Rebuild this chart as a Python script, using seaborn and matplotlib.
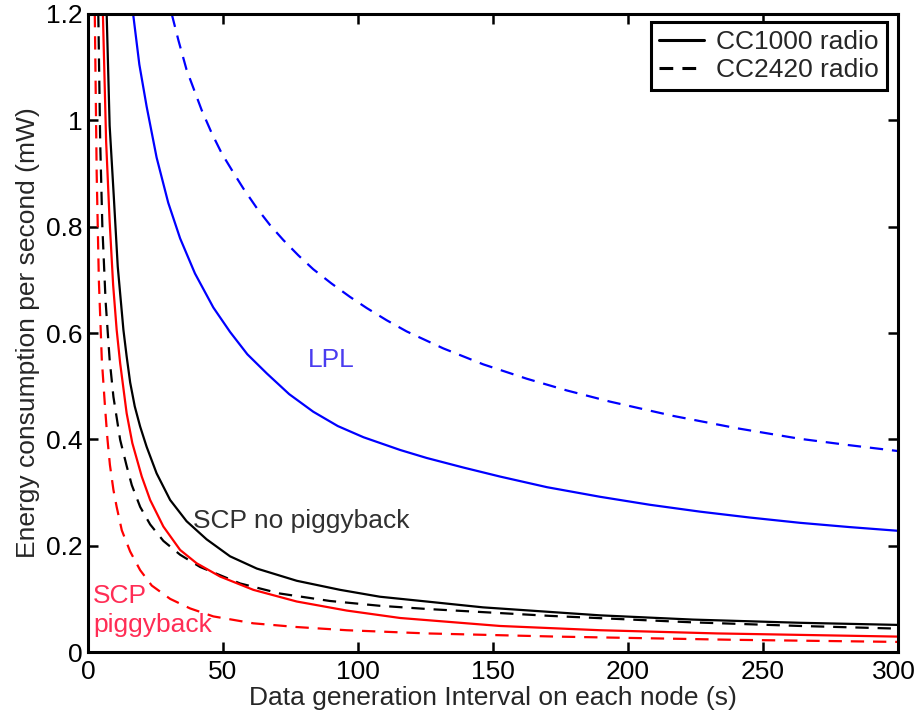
import pandas as pd
import numpy as np
import matplotlib
matplotlib.use('Agg')
import matplotlib.pyplot as plt
from matplotlib.lines import Line2D
from matplotlib.transforms import ScaledTranslation
import seaborn as sns

# --- values ---
lpl_cc1000_x = [16.7, 19.0, 21.7, 25.4, 29.7, 34.1, 39.6, 46.4, 52.6, 59, 66.2, 74.5, 83.4, 92.5,
                102, 115.6, 125.4, 139, 152.6, 170, 189.6, 208, 226.7, 245, 263.7, 282, 300]
lpl_cc1000_y = [1.20, 1.105, 1.026, 0.930, 0.845, 0.778, 0.712, 0.648, 0.602, 0.560, 0.524, 0.485,
                0.452, 0.425, 0.404, 0.380, 0.365, 0.347, 0.330, 0.310, 0.292, 0.277, 0.264,
                0.253, 0.243, 0.235, 0.228]

lpl_cc2420_x = [31, 33.5, 36.5, 42.1, 45.8, 49.5, 53.8, 57.5, 62.5, 67.4, 72.3, 77.9, 83.4, 90.2,
                97, 103.2, 110.6, 118, 131.6, 146.4, 162.5, 177.3, 193.3, 216.8, 240.2, 263.7,
                282, 300]
lpl_cc2420_y = [1.20, 1.15, 1.095, 1.019, 0.976, 0.938, 0.902, 0.872, 0.835, 0.803, 0.775, 0.746,
                0.720, 0.693, 0.668, 0.647, 0.624, 0.603, 0.571, 0.541, 0.514, 0.492, 0.471,
                0.444, 0.421, 0.401, 0.389, 0.378]

scp_cc1000_x = [6.9, 8.0, 9.5, 11.0, 13.1, 14.3, 15.6, 17.3, 19.3, 21.7, 25.4, 30.4, 36.5, 43.9,
                52.6, 62.5, 77.3, 93.3, 108.1, 125.4, 146.3, 189.6, 224, 263.7, 300]
scp_cc1000_y = [1.20, 0.99, 0.86, 0.725, 0.606, 0.556, 0.507, 0.462, 0.424, 0.386, 0.336, 0.286,
                0.246, 0.212, 0.180, 0.157, 0.134, 0.117, 0.104, 0.095, 0.084, 0.069, 0.061,
                0.055, 0.051]

scp_cc2420_x = [3.8, 4.5, 5.3, 6.5, 8.0, 9.4, 11.9, 14.3, 16.2, 19.3, 23, 27.9, 34.1, 41.5, 56.3,
                71.1, 89.6, 108, 125.4, 171, 223, 263.7, 300]
scp_cc2420_y = [1.20, 0.96, 0.80, 0.66, 0.55, 0.48, 0.399, 0.350, 0.314, 0.273, 0.240, 0.209,
                0.183, 0.160, 0.129, 0.110, 0.096, 0.087, 0.081, 0.068, 0.056, 0.049, 0.044]

pig_cc1000_x = [5.5, 6.7, 8.0, 9.3, 10.6, 11.9, 14.3, 16.4, 19.9, 23, 27.9, 34.1, 40.2, 48.9,
                61.2, 77.3, 95.8, 115.6, 152.6, 189.6, 232.8, 300]
pig_cc1000_y = [1.20, 0.96, 0.81, 0.69, 0.606, 0.543, 0.449, 0.393, 0.330, 0.286, 0.236, 0.192,
                0.167, 0.142, 0.117, 0.095, 0.078, 0.064, 0.049, 0.041, 0.035, 0.029]

pig_cc2420_x = [2.5, 3.2, 4.0, 5.1, 6.3, 7.2, 8.1, 9.4, 10.6, 12.5, 15.6, 19.3, 23.6, 30.4, 37.8,
                46.4, 61.2, 77.3, 95.8, 125.4, 173.6, 239, 300]
pig_cc2420_y = [1.20, 0.90, 0.70, 0.55, 0.46, 0.40, 0.352, 0.305, 0.273, 0.229, 0.189, 0.154,
                0.125, 0.100, 0.082, 0.067, 0.054, 0.047, 0.041, 0.035, 0.029, 0.023, 0.019]

x_ticks = [0, 50, 100, 150, 200, 250, 300]
y_ticks = [0, 0.2, 0.4, 0.6, 0.8, 1.0, 1.2]
y_tick_labels = ['0', '0.2', '0.4', '0.6', '0.8', '1', '1.2']
legend_labels = ['CC1000 radio', 'CC2420 radio']

sns.set_style('ticks')
plt.rcParams['font.family'] = ['Liberation Sans', 'DejaVu Sans']

fig = plt.figure(figsize=(9.19, 7.14), dpi=100)
ax = fig.add_axes([0.0958, 0.0868, 0.8814, 0.8936])

dash = (0, (6, 4))
curves = [
    (lpl_cc1000_x, lpl_cc1000_y, '#0000ff', '-'),
    (lpl_cc2420_x, lpl_cc2420_y, '#0000ff', dash),
    (scp_cc1000_x, scp_cc1000_y, '#000000', '-'),
    (scp_cc2420_x, scp_cc2420_y, '#000000', dash),
    (pig_cc1000_x, pig_cc1000_y, '#ff0000', '-'),
    (pig_cc2420_x, pig_cc2420_y, '#ff0000', dash),
]
for xs, ys, col, ls in curves:
    d = pd.DataFrame({'x': xs, 'y': ys})
    sns.lineplot(data=d, x='x', y='y', ax=ax, color=col, linestyle=ls,
                 linewidth=1.6, errorbar=None, sort=False)

ax.set_xlim(0, 300)
ax.set_ylim(0, 1.2)
ax.set_xticks(x_ticks)
ax.set_xticklabels([str(t) for t in x_ticks])
ax.set_yticks(y_ticks)
ax.set_yticklabels(y_tick_labels)
ax.tick_params(direction='in', top=True, right=True, length=7, width=1.8,
               labelsize=19, colors='black')
ax.tick_params(axis='x', pad=6)
ax.tick_params(axis='y', pad=4)
# nudge the last x tick label a few pixels left so it stays inside the figure
last = ax.get_xticklabels()[-1]
last.set_transform(last.get_transform() + ScaledTranslation(-3 / 72, 0, fig.dpi_scale_trans))
for s in ax.spines.values():
    s.set_visible(True)
    s.set_linewidth(2.2)
    s.set_color('black')

ax.set_xlabel('Data generation Interval on each node (s)', fontsize=19, labelpad=1)
ax.set_ylabel('Energy consumption per second (mW)', fontsize=19, labelpad=4)

# curve labels
ax.text(81.5, 0.537, 'LPL', fontsize=19, color='#4a3cf0', ha='left', va='baseline')
ax.text(39.0, 0.233, 'SCP no piggyback', fontsize=19, color='#303030', ha='left', va='baseline')
ax.text(1.8, 0.093, 'SCP', fontsize=19, color='#ff2d55', ha='left', va='baseline')
ax.text(1.8, 0.038, 'piggyback', fontsize=19, color='#ff2d55', ha='left', va='baseline')

handles = [Line2D([], [], color='black', lw=2.2, linestyle='-'),
           Line2D([], [], color='black', lw=2.2, linestyle=(0, (4.5, 3)))]
leg = ax.legend(handles, legend_labels, loc='upper right', bbox_to_anchor=(0.986, 0.987),
                borderaxespad=0, fontsize=19, frameon=True, fancybox=False,
                handlelength=1.7, handletextpad=0.45, borderpad=0.3, labelspacing=0.15)
leg.get_frame().set_edgecolor('black')
leg.get_frame().set_linewidth(2.2)
leg.get_frame().set_alpha(1)

fig.savefig('out.png', dpi=100)
